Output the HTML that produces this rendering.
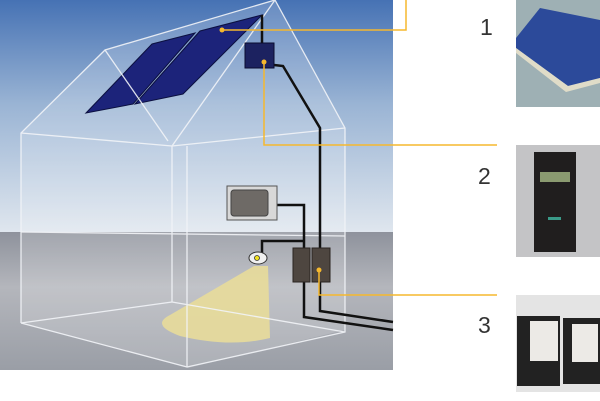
<!DOCTYPE html>
<html><head><meta charset="utf-8"><style>
html,body{margin:0;padding:0;background:#fff;width:600px;height:401px;overflow:hidden}
svg{display:block}
</style></head><body>
<svg width="600" height="401" viewBox="0 0 600 401" xmlns="http://www.w3.org/2000/svg">
<defs>
<linearGradient id="sky" x1="0" y1="0" x2="0" y2="1">
<stop offset="0" stop-color="#4672b4"/><stop offset="0.45" stop-color="#9ab4d4"/><stop offset="1" stop-color="#dfe6ee"/>
</linearGradient>
<linearGradient id="gr" x1="0" y1="0" x2="0" y2="1">
<stop offset="0" stop-color="#8e929c"/><stop offset="0.4" stop-color="#b4b6bc"/><stop offset="1" stop-color="#9a9ea6"/>
</linearGradient>
</defs>
<rect x="0" y="0" width="393" height="232" fill="url(#sky)"/>
<rect x="0" y="232" width="393" height="138" fill="url(#gr)"/>
<polygon points="21,133 105,50 275,0 345,128 345,330 188,368 21,323" fill="#fff" fill-opacity="0.18"/>
<polygon points="86,113 152,44 195,33 133,104" fill="#1c237a" stroke="#0c1040"/>
<polygon points="135,104 200,31 262,15 183,94" fill="#1c237a" stroke="#0c1040"/>
<path d="M254,266 L268,266 L270,338 Q230,348 180,336 Q150,325 170,315 Z" fill="#e8dc9a" opacity="0.9"/>
<g stroke="#f2f4f8" stroke-width="1.3" fill="none" opacity="0.9">
<polyline points="21,323 21,133 105,50 275,0 345,128 345,332 187,367 21,323"/>
<line x1="21" y1="133" x2="172" y2="146"/>
<line x1="105" y1="50" x2="168" y2="141"/>
<line x1="172" y1="146" x2="275" y2="0"/>
<line x1="172" y1="146" x2="345" y2="128"/>
<line x1="172" y1="146" x2="172" y2="302"/>
<line x1="187" y1="367" x2="187" y2="146"/>
<line x1="21" y1="323" x2="172" y2="302"/>
<line x1="172" y1="302" x2="345" y2="332"/>
<line x1="21" y1="232" x2="345" y2="236"/>
</g>
<g stroke="#111" stroke-width="2.5" fill="none">
<polyline points="262,15 262,44"/>
<polyline points="274,65 283,66 320,128 320,250"/>
<polyline points="276,205 304,205 304,250"/>
<polyline points="262,254 262,241 304,241"/>
<polyline points="304,282 304,317 393,330"/>
<polyline points="320,282 320,311 393,322"/>
</g>
<rect x="245" y="43" width="29" height="25" fill="#1c2260" stroke="#0a0c30"/>
<rect x="227" y="186" width="50" height="34" fill="#d8d8d8" stroke="#555"/>
<rect x="231" y="190" width="37" height="26" rx="3" fill="#6e6a66" stroke="#444"/>
<ellipse cx="258" cy="258" rx="9" ry="6" fill="#f0f0f0" stroke="#333"/>
<circle cx="257" cy="258" r="2.5" fill="#f0e020" stroke="#333" stroke-width="0.8"/>
<rect x="293" y="248" width="17" height="34" fill="#4e4640" stroke="#2a2420"/>
<rect x="312" y="248" width="18" height="34" fill="#4e4640" stroke="#2a2420"/>
<g stroke="#f5b82e" stroke-width="1.5" fill="none">
<polyline points="222,30 406,30 406,0"/>
<polyline points="264,62 264,145 497,145"/>
<polyline points="319,270 319,295 497,295"/>
</g>
<g fill="#f5b82e"><circle cx="222" cy="30" r="2.5"/><circle cx="264" cy="62" r="2.5"/><circle cx="319" cy="270" r="2.5"/></g>
<g font-family="Liberation Sans, sans-serif" font-size="23" fill="#333">
<text x="480" y="35">1</text><text x="478" y="184">2</text><text x="478" y="333">3</text>
</g>
<rect x="516" y="0" width="84" height="107" fill="#9eb0b4"/>
<polygon points="516,38 540,8 600,20 600,78 568,86 516,48" fill="#2c4a9a"/>
<polygon points="516,48 568,86 600,78 600,83 566,92 516,53" fill="#e0dcc8"/>
<rect x="516" y="145" width="84" height="112" fill="#c4c4c6"/>
<rect x="534" y="152" width="42" height="100" fill="#201e1e"/>
<rect x="540" y="172" width="30" height="10" fill="#8a9a70"/>
<rect x="548" y="217" width="13" height="3" fill="#3a9a88"/>
<rect x="516" y="295" width="84" height="97" fill="#e4e4e4"/>
<rect x="517" y="316" width="43" height="70" fill="#222"/>
<rect x="530" y="321" width="28" height="40" fill="#eceae6"/>
<rect x="563" y="318" width="37" height="66" fill="#222"/>
<rect x="572" y="324" width="26" height="38" fill="#eceae6"/>
</svg>
</body></html>
